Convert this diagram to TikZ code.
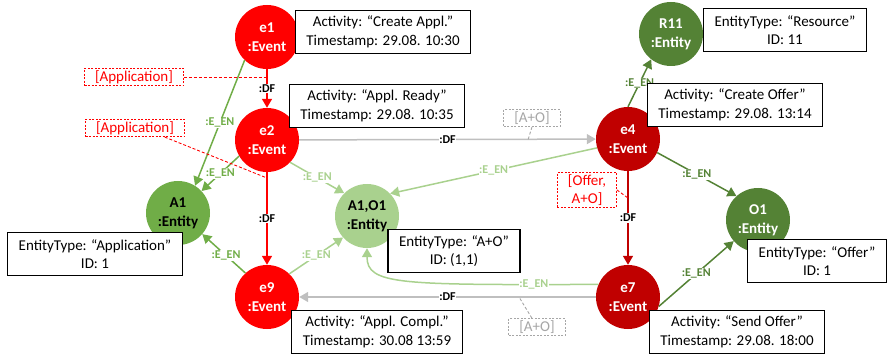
\documentclass[tikz,border=0pt]{standalone}
\usepackage{fontspec}
\setmainfont{Carlito}
\usepackage{xcolor}
\definecolor{evred}{RGB}{255,0,0}
\definecolor{evdarkred}{RGB}{192,0,0}
\definecolor{engreen}{RGB}{112,173,71}
\definecolor{endarkgreen}{RGB}{84,130,53}
\definecolor{enlightgreen}{RGB}{169,209,142}
\definecolor{dfgray}{RGB}{191,191,191}
\definecolor{taggray}{RGB}{166,166,166}
\usepackage{tikz}
\usetikzlibrary{arrows.meta}
\newcommand{\evnode}[1]{#1\\:Event}
\newcommand{\ennode}[1]{#1\\:Entity}
\newcommand{\evattr}[2]{Activity: “#1”\\Timestamp: #2}
\newcommand{\enattr}[2]{EntityType: “#1”\\ID: #2}
\tikzset{
    common/.style={circle, minimum size=64pt, inner sep=0pt, align=center, font=\fontsize{15}{19}\selectfont\bfseries},
    event/.style={common, fill=evred, text=white},
    darkevent/.style={common, fill=evdarkred, text=white},
    entity/.style={common, fill=engreen, text=black},
    darkentity/.style={common, fill=endarkgreen, text=white},
    lightentity/.style={common, fill=enlightgreen, text=black},
    attrbox/.style={draw, line width=1.2pt, fill=white, align=center, inner xsep=11pt, minimum height=43pt, font=\fontsize{15}{18.5}\selectfont},
    tag/.style={draw, dashed, dash pattern=on 2pt off 1.5pt, line width=0.9pt, fill=white, align=center, inner xsep=10.5pt, inner ysep=2pt, font=\fontsize{15}{18}\selectfont},
    redtag/.style={tag, draw=evred, text=evred},
    graytag/.style={tag, draw=taggray, text=taggray},
    tagline/.style={dashed, dash pattern=on 3pt off 2pt, line width=0.9pt},
    df/.style={-{Triangle[width=10pt,length=9pt]}, line width=1.5pt},
    en/.style={-{Triangle[width=10pt,length=9pt]}, line width=1.5pt},
    lbl/.style={fill=white, text=black, inner sep=0.6pt, font=\fontsize{12}{12}\selectfont\bfseries}
}
\begin{document}
\begin{tikzpicture}[x=1pt,y=-1pt]
    \useasboundingbox (0,0) rectangle (888,358);

    \path (267,37) node[event] (e1) {\evnode{e1}}
        ++(0,103) node[event] (e2) {\evnode{e2}}
        ++(0,157) node[event] (e9) {\evnode{e9}};
    \path (628,139) node[darkevent] (e4) {\evnode{e4}}
        ++(0,158) node[darkevent] (e7) {\evnode{e7}};
    \path (178,213) node[entity] (a1) {\ennode{A1}}
        ++(189,3) node[lightentity] (ao) {\ennode{A1,O1}};
    \path (671,34) node[darkentity] (r11) {\ennode{R11}};
    \path (758,220) node[darkentity] (o1) {\ennode{O1}};

    \draw[df, evred] (e1) -- node[lbl] {:DF} (e2);
    \draw[df, evred] (e2) -- node[lbl] {:DF} (e9);
    \draw[df, dfgray] (e2) -- node[lbl] {:DF} (e4);
    \draw[df, evdarkred] (e4) -- node[lbl] {:DF} (e7);
    \draw[df, dfgray] (e7) -- node[lbl] {:DF} (e9);

    \draw[en, engreen] (e1.226) -- node[lbl, text=engreen] {:E\_EN} (a1.58);
    \draw[en, engreen] (e2.210) -- node[lbl, text=engreen] {:E\_EN} (a1.43);
    \draw[en, engreen] (e9.132) -- node[lbl, text=engreen, pos=0.45] {:E\_EN} (a1.-41);
    \draw[en, enlightgreen] (e2.-44) -- node[lbl, text=enlightgreen] {:E\_EN} (ao.135);
    \draw[en, enlightgreen] (e9.46) -- node[lbl, text=enlightgreen] {:E\_EN} (ao.222);
    \draw[en, enlightgreen] (e4.196) -- node[lbl, text=enlightgreen] {:E\_EN} (ao.44);
    \draw[en, enlightgreen] (e7.157) .. controls (400,285) and (367,285) .. node[lbl, text=enlightgreen, pos=0.12] {:E\_EN} (ao.south);
    \draw[en, endarkgreen] (e4.90) -- node[lbl, text=endarkgreen] {:E\_EN} (r11.232);
    \draw[en, endarkgreen] (e4.-25) -- node[lbl, text=endarkgreen] {:E\_EN} (o1.132);
    \draw[en, endarkgreen] (e7.-17) -- node[lbl, text=endarkgreen] {:E\_EN} (o1.221);

    \coordinate (c12) at (267,77);
    \coordinate (c29) at (267,178);
    \coordinate (c47) at (628,198);
    \coordinate (c24) at (528,140);
    \coordinate (c79) at (519,297);

    \node[redtag] (app1) at (134,77) {[Application]};
    \node[redtag] (app2) at (135,128) {[Application]};
    \node[redtag] (offer) at (587,190) {[Offer,\\A+O]};
    \node[graytag] (ao1) at (532,118) {[A+O]};
    \node[graytag] (ao2) at (537,327) {[A+O]};
    \draw[tagline, evred] (app1) -- (c12);
    \draw[tagline, evred] (app2.343) -- (c29);
    \draw[tagline, evred] (offer.east) -- (c47);
    \draw[tagline, taggray] (ao1.south) -- (c24);
    \draw[tagline, taggray] (ao2.120) -- (c79);

    \node[attrbox] (e1attr) at (383,32) {\evattr{Create Appl.}{29.08. 10:30}};
    \node[attrbox] (e2attr) at (377,106) {\evattr{Appl. Ready}{29.08. 10:35}};
    \node[attrbox] (e4attr) at (735,105) {\evattr{Create Offer}{29.08. 13:14}};
    \node[attrbox] (e9attr) at (377,332) {\evattr{Appl. Compl.}{30.08 13:59}};
    \node[attrbox] (e7attr) at (737,332) {\evattr{Send Offer}{29.08. 18:00}};
    \node[attrbox] (r11attr) at (785,30) {\enattr{Resource}{11}};
    \node[attrbox] (a1attr) at (95,254) {\enattr{Application}{1}};
    \node[attrbox] (aoattr) at (454,251) {\enattr{A+O}{(1,1)}};
    \node[attrbox] (o1attr) at (817,261) {\enattr{Offer}{1}};
\end{tikzpicture}
\end{document}
